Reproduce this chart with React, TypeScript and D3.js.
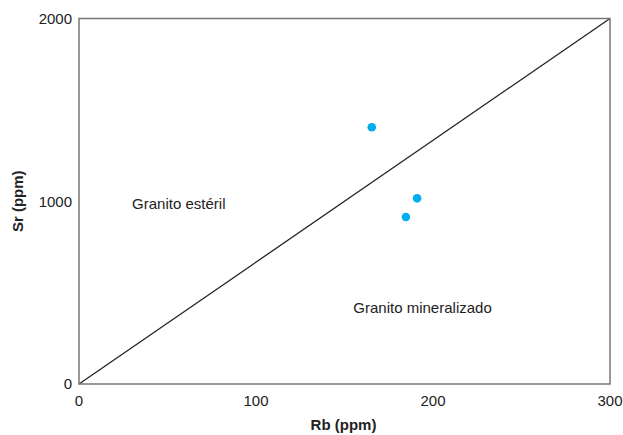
import React from "react";
import * as d3 from "d3";

const rbValues = [165.4, 191, 184.7];
const srValues = [1405, 1016, 914];
const xTicks = [0, 100, 200, 300];
const yTicks = [0, 1000, 2000];
const regionLabels = [
  { text: "Granito estéril", rb: 30, sr: 960 },
  { text: "Granito mineralizado", rb: 155, sr: 390 },
];

const W = 623;
const H = 435;
const M = { left: 79, right: 13, top: 18.5, bottom: 51 };

export default function App() {
  const x = d3.scaleLinear().domain([0, 300]).range([M.left, W - M.right]);
  const y = d3.scaleLinear().domain([0, 2000]).range([H - M.bottom, M.top]);
  const font = "'Liberation Sans', Arial, sans-serif";
  const fs = 15;
  return (
    <svg
      width={W}
      height={H}
      style={{ position: "absolute", left: 0, top: 0, background: "#fff" }}
      fontFamily={font}
    >
      <line
        x1={x(0)}
        y1={y(0)}
        x2={x(300)}
        y2={y(2000)}
        stroke="#222"
        strokeWidth={1.3}
      />
      <rect
        x={x(0)}
        y={y(2000)}
        width={x(300) - x(0)}
        height={y(0) - y(2000)}
        fill="none"
        stroke="#777"
        strokeWidth={1.5}
      />
      {yTicks.map((t) => (
        <text
          key={"y" + t}
          x={x(0) - 7}
          y={y(t)}
          dy="0.35em"
          textAnchor="end"
          fontSize={fs}
          fill="#222"
        >
          {t}
        </text>
      ))}
      {xTicks.map((t) => (
        <text
          key={"x" + t}
          x={x(t)}
          y={y(0) + 22}
          textAnchor="middle"
          fontSize={fs}
          fill="#222"
        >
          {t}
        </text>
      ))}
      <text
        x={(x(0) + x(300)) / 2 - 1}
        y={H - 5}
        textAnchor="middle"
        fontSize={fs}
        fontWeight="bold"
        fill="#222"
      >
        Rb (ppm)
      </text>
      <text
        transform={`translate(23, ${(y(0) + y(2000)) / 2}) rotate(-90)`}
        textAnchor="middle"
        fontSize={fs}
        fontWeight="bold"
        fill="#222"
      >
        Sr (ppm)
      </text>
      {regionLabels.map((l) => (
        <text key={l.text} x={x(l.rb)} y={y(l.sr)} fontSize={fs} fill="#222">
          {l.text}
        </text>
      ))}
      {rbValues.map((rb, i) => (
        <circle key={i} cx={x(rb)} cy={y(srValues[i])} r={4.3} fill="#00AEEF" />
      ))}
    </svg>
  );
}
